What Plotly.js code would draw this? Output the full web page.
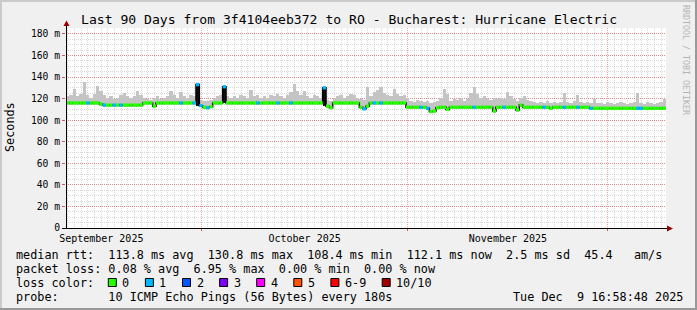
<!DOCTYPE html>
<html><head><meta charset="utf-8">
<script src="https://cdn.plot.ly/plotly-3.0.1.min.js"></script>
<style>html,body{margin:0;padding:0;background:#f0f0f0}</style>
</head><body><div id="chart" style="width:697px;height:310px"></div>
<script>
// ---- data ----
const startTime = '2025-09-10 16:58:48';
const endTime = '2025-12-09 16:58:48';
const stepHours = 12;

const medianRtt = [
 116,116,116,116,116,116,116,116,116,116,
 115,114,114,114,114,114,114,114,114,114,
 114,114,114,116,116,116,113,116,116,116,
 116,116,116,116,116,116,116,116,116,133,
 113.5,112,111.5,112.5,116,116,116,131,116,116,
 116,116,116,116,116,116,116,116,116,116,
 116,116,116,116,116,116,116,116,116,116,
 116,116,116,116,116,116,116,130,113,111.5,
 116,116,116,116,116,116,116,116,112,110.5,
 113,116,116,116,116,116,116,116,116,116,
 116,116,112,112,112,112,112,112,111,108,
 108.5,111.5,112,112,110,112,112,112,112,112,
 112,112,112,112,112,112,112,112,108.5,112,
 112,112,112,112,112,109.5,114,112,112,112,
 112,112,112,112,112,111,112,112,112,112,
 112,112,112,112,112,112,112,111,111,111,
 111,111,111,111,111,111,111,111,111,111,
 111,111,111,111,111,111,111,111,111,111
];

const smokeMax = [
 122,123,129,122,124,135,123,121,124,132,
 127,123,121,122,120,121,123,125,122,121,
 122,127,123,121,120,119,121,122,120,121,
 122,127,123,121,126,122,121,123,122,134,
 119,118,118,119,121,122,123,132,122,121,
 122,121,123,122,121,128,122,123,121,122,
 121,123,122,124,122,121,123,126,134,127,
 123,127,122,121,123,122,121,131,119,118,
 121,122,123,121,122,124,123,121,120,119,
 131,122,126,128,131,125,123,122,129,124,
 122,123,121,118,117,119,118,117,118,116,
 117,118,121,129,124,118,120,119,121,118,
 120,125,131,124,121,122,120,119,121,120,
 121,120,126,122,120,118,121,122,119,118,
 117,116,117,116,118,116,117,116,117,125,
 117,116,118,123,117,116,117,116,120,116,
 116,115,117,116,115,116,117,116,115,116,
 117,125,116,115,117,116,115,116,117,120
];

const lostPings = [
 0,0,0,0,0,0,1,0,0,0,
 0,1,0,0,1,0,1,0,0,0,
 0,0,0,0,0,0,0,0,0,0,
 0,0,0,0,1,0,0,0,1,1,
 1,0,1,0,0,0,0,1,0,0,
 0,0,0,0,0,0,0,1,0,0,
 0,0,0,1,0,0,0,1,0,0,
 0,0,0,0,0,0,0,1,0,0,
 0,0,0,0,0,0,0,0,0,1,
 0,0,1,0,1,0,0,0,0,0,
 0,0,0,0,0,0,1,0,1,0,
 0,0,0,0,0,0,0,0,0,0,
 0,0,1,0,0,0,0,0,0,0,
 0,1,0,0,0,0,0,0,0,0,
 0,0,0,1,0,0,0,0,0,1,
 0,0,0,1,0,0,0,1,0,0,
 0,0,0,0,0,0,0,0,0,0,
 0,1,1,0,0,0,0,0,0,0
];

const lossLabels = ['0','1','2','3','4','5','6-9','10/10'];
const lossColors = ['#26ff00','#00b8ff','#0059ff','#7e00ff','#ff00ff','#ff5500','#ff0000','#a10000'];

const yTickVals = [0,20,40,60,80,100,120,140,160,180];
const yTickText = ['0','20 m','40 m','60 m','80 m','100 m','120 m','140 m','160 m','180 m'];

const titleText = 'Last 90 Days from 3f4104eeb372 to RO - Bucharest: Hurricane Electric';
const rowLabels = ['median rtt:','packet loss:','loss color:','probe:'];
const rttLine = 'median rtt:  113.8 ms avg  130.8 ms max  108.4 ms min  112.1 ms now  2.5 ms sd  45.4   am/s';
const lossLine = 'packet loss: 0.08 % avg  6.95 % max  0.00 % min  0.00 % now';
const probeLine = 'probe:       10 ICMP Echo Pings (56 Bytes) every 180s';
const stampText = 'Tue Dec  9 16:58:48 2025';

// ---- helpers ----
const W = 697, H = 310, L = 66, T = 28, PW = 600, PH = 200;
const px = x => (x - L) / PW;
const py = y => (T + PH - y) / PH;
const nb = s => s.replace(/ /g, '\u00a0');
const STEP = stepHours * 3600000;
const t0 = Date.parse(startTime.replace(' ', 'T') + 'Z');
const fmt = ms => new Date(ms).toISOString().replace('T', ' ').replace('Z', '');
const n = medianRtt.length;
const tStart = medianRtt.map((_, i) => fmt(t0 + i * STEP));
const tMid = medianRtt.map((_, i) => fmt(t0 + i * STEP + STEP / 2));
const tNext = medianRtt.map((_, i) => fmt(t0 + (i + 1) * STEP));
const levelOf = c => c <= 5 ? c : (c < 10 ? 6 : 7);

const traces = [];
// smoke
traces.push({
  type: 'bar', x: tMid,
  base: medianRtt.map(v => v - 1.5),
  y: smokeMax.map((v, i) => v - (medianRtt[i] - 1.5)),
  width: STEP,
  marker: {color: '#c4c4c4', line: {width: 0}},
  hoverinfo: 'skip'
});
// dense (dark) smoke where the median jumps up for a single step
const spikeX = [], spikeBase = [], spikeH = [];
medianRtt.forEach((m, i) => {
  const prev = i > 0 ? medianRtt[i - 1] : m, next = i < n - 1 ? medianRtt[i + 1] : m;
  const low = Math.min(prev, next);
  if (m - low > 6) { spikeX.push(tMid[i]); spikeBase.push(low); spikeH.push(m - low); }
});
traces.push({
  type: 'bar', x: spikeX, base: spikeBase, y: spikeH, width: STEP * 0.8,
  marker: {color: '#111111', line: {width: 0}}, hoverinfo: 'skip'
});
// median connector (black verticals)
traces.push({
  type: 'scatter', mode: 'lines',
  x: tStart.concat([fmt(t0 + n * STEP)]),
  y: medianRtt.concat([medianRtt[n - 1]]),
  line: {shape: 'hv', color: '#000000', width: 1.5},
  hoverinfo: 'skip'
});
// median coloured by loss
lossColors.forEach((col, k) => {
  const xs = [], ys = [];
  medianRtt.forEach((m, i) => {
    if (levelOf(lostPings[i]) === k) {
      xs.push(tStart[i], tNext[i], null);
      ys.push(m, m, null);
    }
  });
  if (xs.length) traces.push({
    type: 'scatter', mode: 'lines', x: xs, y: ys,
    line: {color: col, width: 3.3}, hoverinfo: 'skip'
  });
});

const mgrid = 'rgba(222,48,48,0.45)';
const grid = 'rgba(143,143,143,0.35)';
const mono = 'DejaVu Sans Mono';

const annotations = [];
const ann = (x, y, text, opts) => Object.assign({
  xref: 'paper', yref: 'paper', x: px(x), y: py(y), text: nb(text),
  showarrow: false, xanchor: 'left', yanchor: 'middle',
  borderpad: 0, borderwidth: 0,
  font: {family: mono, size: 11.8, color: '#000'}
}, opts || {});
annotations.push(ann(W / 2, 19.5, titleText, {xanchor: 'center', font: {family: mono, size: 13.1, color: '#000'}}));
annotations.push(ann(10, 127, 'Seconds', {xanchor: 'center', textangle: -90}));
annotations.push(ann(686, 60, 'RRDTOOL / TOBI OETIKER', {xanchor: 'center', textangle: 90, font: {family: mono, size: 8.3, color: '#b4b4b4'}}));
const CW = 7.1, X0 = 16;
annotations.push(ann(X0, 254.5, rttLine));
annotations.push(ann(X0, 268.5, lossLine));
annotations.push(ann(X0, 282.5, rowLabels[2]));
annotations.push(ann(X0, 296.5, probeLine));
annotations.push(ann(X0 + 70 * CW, 296.5, stampText));

const shapes = [];
let sx = X0 + 13 * CW;
lossLabels.forEach((lab, k) => {
  shapes.push({type: 'rect', xref: 'paper', yref: 'paper',
    x0: px(sx), x1: px(sx + 8), y0: py(278.5), y1: py(286.5),
    fillcolor: lossColors[k], line: {color: '#000', width: 1}, layer: 'above'});
  annotations.push(ann(sx + 14, 282.5, lab));
  sx += 30 + lab.length * CW;
});
// frame shading
const rect = (x0, y0, x1, y1, c) => ({type: 'rect', xref: 'paper', yref: 'paper',
  x0: px(x0), x1: px(x1), y0: py(y0), y1: py(y1), fillcolor: c, line: {width: 0}, layer: 'above'});
shapes.push(rect(0, 0, W, 2, '#cbcbcb'));
shapes.push(rect(0, 0, 2, H, '#cbcbcb'));
shapes.push(rect(0, H - 2, W, H, '#999999'));
shapes.push(rect(W - 2, 0, W, H, '#999999'));
// axis lines and arrows
shapes.push({type: 'line', xref: 'paper', yref: 'paper', x0: px(66.5), x1: px(66.5), y0: py(229), y1: py(25), line: {color: '#000', width: 1}, layer: 'above'});
shapes.push({type: 'line', xref: 'paper', yref: 'paper', x0: px(62), x1: px(668), y0: py(228.5), y1: py(228.5), line: {color: '#000', width: 1}, layer: 'above'});
const pth = pts => 'M' + pts.map(p => px(p[0]) + ',' + py(p[1])).join(' L') + ' Z';
shapes.push({type: 'path', xref: 'paper', yref: 'paper', path: pth([[63.5, 26], [69.5, 26], [66.5, 20.5]]), fillcolor: '#990000', line: {width: 0}, layer: 'above'});
shapes.push({type: 'path', xref: 'paper', yref: 'paper', path: pth([[667, 225.5], [667, 231.5], [673, 228.5]]), fillcolor: '#990000', line: {width: 0}, layer: 'above'});

const layout = {
  width: W, height: H,
  margin: {l: L, r: W - L - PW, t: T, b: H - T - PH, pad: 0},
  paper_bgcolor: '#f0f0f0', plot_bgcolor: '#ffffff',
  showlegend: false, barmode: 'overlay', bargap: 0,
  font: {family: mono, size: 10, color: '#000'},
  xaxis: {
    type: 'date', range: [startTime, endTime],
    tick0: '2025-10-01', dtick: 'M1', tickformat: '%B %Y', ticklabelmode: 'period',
    showgrid: true, gridcolor: mgrid, griddash: '1px,1px', gridwidth: 1,
    ticks: 'outside', ticklen: 2, ticklabelstandoff: -1, tickcolor: 'rgba(222,48,48,0.8)',
    minor: {dtick: 86400000, tick0: '2025-09-11', showgrid: true, gridcolor: grid, griddash: '1px,1px', ticks: ''},
    showline: false, zeroline: false, tickfont: {family: mono, size: 10, color: '#000'}
  },
  yaxis: {
    range: [0, 185.5], tickmode: 'array', tickvals: yTickVals, ticktext: yTickText,
    showgrid: true, gridcolor: mgrid, griddash: '1px,1px', gridwidth: 1,
    ticks: 'outside', ticklen: 3, tickcolor: 'rgba(222,48,48,0.8)',
    minor: {tickmode: 'linear', tick0: 0, dtick: 5, showgrid: true, gridcolor: grid, griddash: '1px,1px', ticks: ''},
    showline: false, zeroline: false, tickfont: {family: mono, size: 9.7, color: '#000'}
  },
  annotations: annotations, shapes: shapes
};

Plotly.newPlot('chart', traces, layout, {staticPlot: true, displayModeBar: false});
</script>
</body></html>
